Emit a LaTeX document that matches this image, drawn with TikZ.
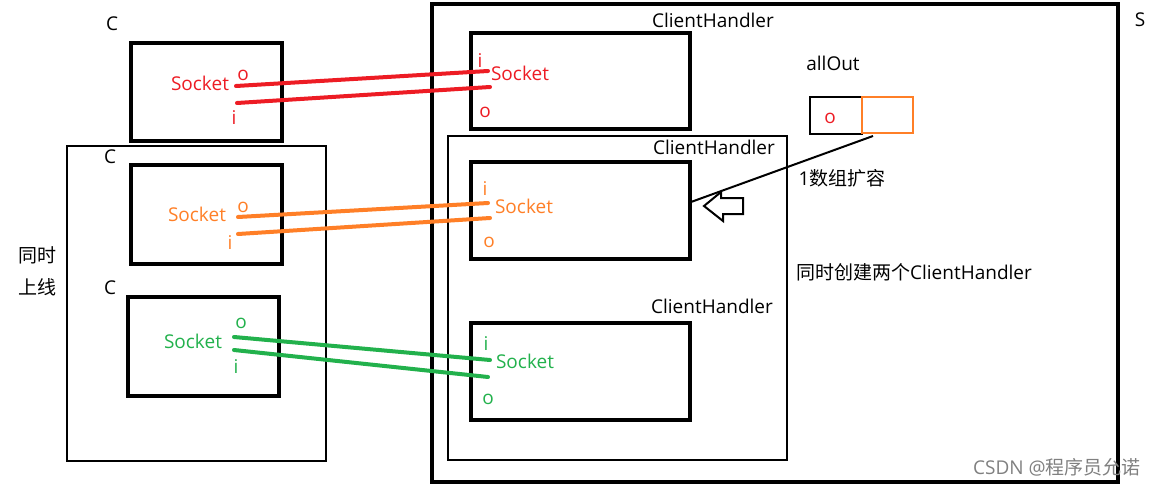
\documentclass[tikz,border=0pt]{standalone}
\usepackage{fontspec}
\setmainfont{Open Sans}
\newfontfamily\cjk{Noto Sans CJK SC}
\usepackage{tikz}
\definecolor{sred}{RGB}{237,28,36}
\definecolor{sorange}{RGB}{255,127,39}
\definecolor{sgreen}{RGB}{34,177,76}

\begin{document}
\begin{tikzpicture}[x=1pt,y=-1pt,
  box/.style={draw,line width=4pt},
  frame/.style={draw,line width=2pt},
  txt/.style={inner sep=0pt,font=\fontsize{19}{22}\selectfont},
  wire/.style={line width=4pt,line cap=round}]
\useasboundingbox (0,0) rectangle (1159,487);
% server
\draw[box] (432,4) rectangle (1118,482);
\node[txt] (s) at (1140,20) {S};
\draw[frame] (448,136) rectangle (787,460);
\draw[box] (471,33) rectangle (690,129);
\draw[box] (471,162) rectangle (690,259);
\draw[box] (471,323) rectangle (690,420);
\node[txt] (ch1) at (713,20) {ClientHandler};
\node[txt] (ch2) at (714,147) {ClientHandler};
\node[txt] (ch3) at (712,306) {ClientHandler};
\node[txt,sred] (h1i) at (480,61) {i};
\node[txt,sred] (h1s) at (520,73) {Socket};
\node[txt,sred] (h1o) at (485,112) {o};
\node[txt,sorange] (h2i) at (485,189) {i};
\node[txt,sorange] (h2s) at (524,206) {Socket};
\node[txt,sorange] (h2o) at (489,242) {o};
\node[txt,sgreen] (h3i) at (486,344) {i};
\node[txt,sgreen] (h3s) at (525,361) {Socket};
\node[txt,sgreen] (h3o) at (488,399) {o};
% allOut
\node[txt] (all) at (833,63) {allOut};
\draw[frame] (810,97) rectangle (862,134);
\draw[frame,sorange] (862,97) rectangle (913,133);
\node[txt,sred] (a0) at (830,118) {o};
\coordinate (grow) at (873,136);
\coordinate (h2e) at (691,202);
\draw[line width=2pt] (grow) -- (h2e);
\draw[line width=2pt] (704,206) -- (721,192) -- (721,198) -- (743,198)
  -- (743,214) -- (723,214) -- (723,221) -- cycle;
\node[txt] (grw) at (842,178) {1{\cjk 数组扩容}};
\node[txt] (both) at (914,272) {{\cjk 同时创建两个}ClientHandler};
% clients
\draw[frame] (67,146) rectangle (326,461);
\node[txt] (c1) at (112,24) {C};
\node[txt] (c2) at (110,157) {C};
\node[txt] (c3) at (110,288) {C};
\draw[box] (131,43) rectangle (282,141);
\draw[box] (131,165) rectangle (282,264);
\draw[box] (128,297) rectangle (279,396);
\node[txt,sred] (c1s) at (200,83) {Socket};
\node[txt,sred] (c1o) at (243,75) {o};
\node[txt,sred] (c1i) at (234,118) {i};
\node[txt,sorange] (c2s) at (197,214) {Socket};
\node[txt,sorange] (c2o) at (243,207) {o};
\node[txt,sorange] (c2i) at (230,243) {i};
\node[txt,sgreen] (c3s) at (193,341) {Socket};
\node[txt,sgreen] (c3o) at (241,323) {o};
\node[txt,sgreen] (c3i) at (236,367) {i};
\node[txt] (on1) at (37,255) {\cjk 同时};
\node[txt] (on2) at (37,287) {\cjk 上线};
% sockets
\coordinate (p1a) at (236,86);  \coordinate (q1a) at (488,71);
\coordinate (p1b) at (237,103); \coordinate (q1b) at (490,87);
\coordinate (p2a) at (238,217); \coordinate (q2a) at (488,203);
\coordinate (p2b) at (238,234); \coordinate (q2b) at (490,218);
\coordinate (p3a) at (234,337); \coordinate (q3a) at (490,360);
\coordinate (p3b) at (234,350); \coordinate (q3b) at (488,377);
\draw[wire,sred] (p1a) -- (q1a);
\draw[wire,sred] (p1b) -- (q1b);
\draw[wire,sorange] (p2a) -- (q2a);
\draw[wire,sorange] (p2b) -- (q2b);
\draw[wire,sgreen] (p3a) -- (q3a);
\draw[wire,sgreen] (p3b) -- (q3b);
\node[txt,gray,font=\fontsize{19}{21}\selectfont] (mark) at (1057,467) {CSDN @{\cjk 程序员允诺}};
\end{tikzpicture}
\end{document}
